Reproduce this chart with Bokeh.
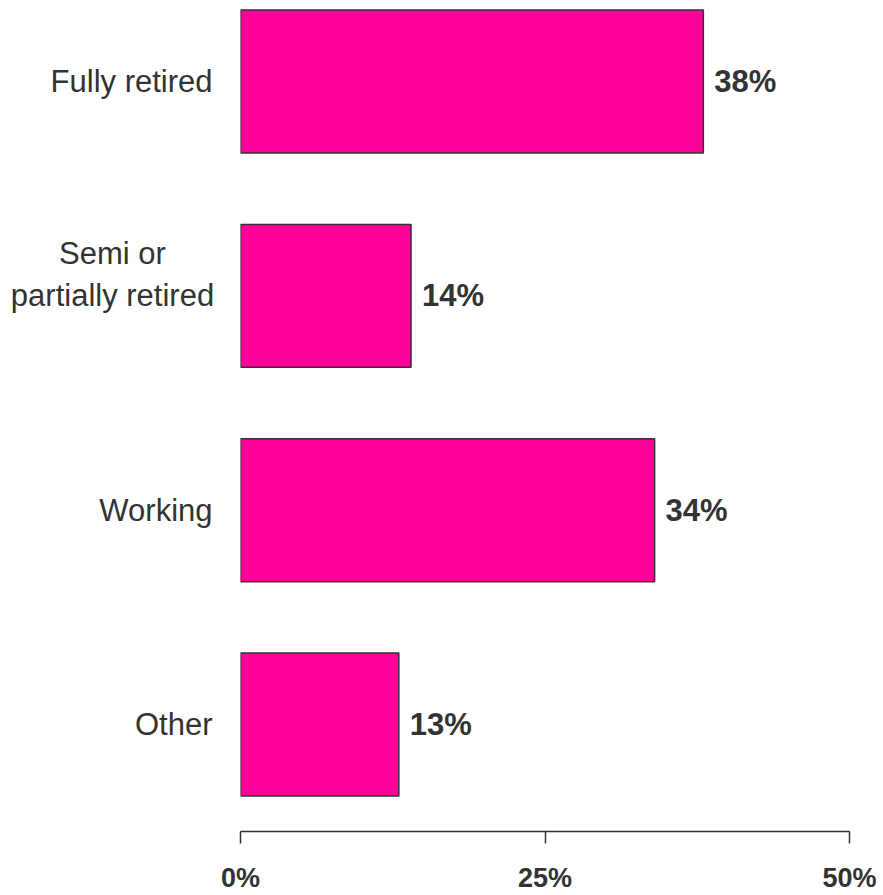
from bokeh.plotting import figure
from bokeh.layouts import row
from bokeh.models import Range1d, FixedTicker, ColumnDataSource
from bokeh.core.properties import value
from bokeh.embed import file_html
from bokeh.resources import INLINE

categories = ["Fully retired", "Semi or\npartially retired", "Working", "Other"]
values = [38, 14, 34, 13]
value_labels = ["38%", "14%", "34%", "13%"]
x_ticks = [0, 25, 50]
x_tick_labels = ["0%", "25%", "50%"]

ys = list(range(len(categories)))
src = ColumnDataSource(dict(y=ys, v=values, lab=value_labels))

TEXT = "#333333"
FONT = "Liberation Sans"

yr = Range1d(3.499, -0.378)

# main chart
p = figure(width=665, height=895, output_backend="svg", toolbar_location=None,
           x_range=Range1d(0, 50), y_range=yr, y_axis_type=None,
           min_border_left=22, min_border_right=34, min_border_top=0,
           min_border_bottom=64)
p.outline_line_color = None
p.background_fill_color = "white"
p.border_fill_color = "white"
p.xgrid.visible = False
p.ygrid.visible = False

p.hbar(y="y", left=0, right="v", height=0.667, source=src,
       fill_color="#FF0099", line_color="#333333", line_width=1.5)

p.text(x="v", y="y", text="lab", source=src, x_offset=11,
       text_align="left", text_baseline="middle",
       text_font=value(FONT), text_font_style="bold",
       text_font_size="31px", text_color=TEXT)

xa = p.xaxis[0]
xa.ticker = FixedTicker(ticks=x_ticks)
xa.major_label_overrides = {t: l for t, l in zip(x_ticks, x_tick_labels)}
xa.axis_line_color = TEXT
xa.axis_line_width = 1.5
xa.major_tick_line_color = TEXT
xa.major_tick_line_width = 1.5
xa.major_tick_in = 0
xa.major_tick_out = 12
xa.minor_tick_line_color = None
xa.major_label_standoff = 19
xa.major_label_text_font = FONT
xa.major_label_text_font_style = "bold"
xa.major_label_text_font_size = "27px"
xa.major_label_text_color = TEXT

# category label column (shares the y scale)
lf = figure(width=218, height=895, output_backend="svg", toolbar_location=None,
            x_range=Range1d(0, 218), y_range=yr,
            x_axis_type=None, y_axis_type=None,
            min_border_left=0, min_border_right=0, min_border_top=0,
            min_border_bottom=64)
lf.outline_line_color = None
lf.xgrid.visible = False
lf.ygrid.visible = False
lf.border_fill_color = "white"

single = [i for i, c in enumerate(categories) if "\n" not in c]
multi = [i for i, c in enumerate(categories) if "\n" in c]

lf.text(x=[212] * len(single), y=[ys[i] for i in single],
        text=[categories[i] for i in single],
        text_align="right", text_baseline="middle",
        text_font=value(FONT), text_font_size="31px", text_color=TEXT)
lf.text(x=[112] * len(multi), y=[ys[i] for i in multi],
        text=[categories[i] for i in multi], y_offset=-21,
        text_align="center", text_baseline="middle", text_line_height=1.2,
        text_font=value(FONT), text_font_size="31px", text_color=TEXT)

layout = row(lf, p, spacing=0)
open("out.html", "w").write(file_html(layout, INLINE))
